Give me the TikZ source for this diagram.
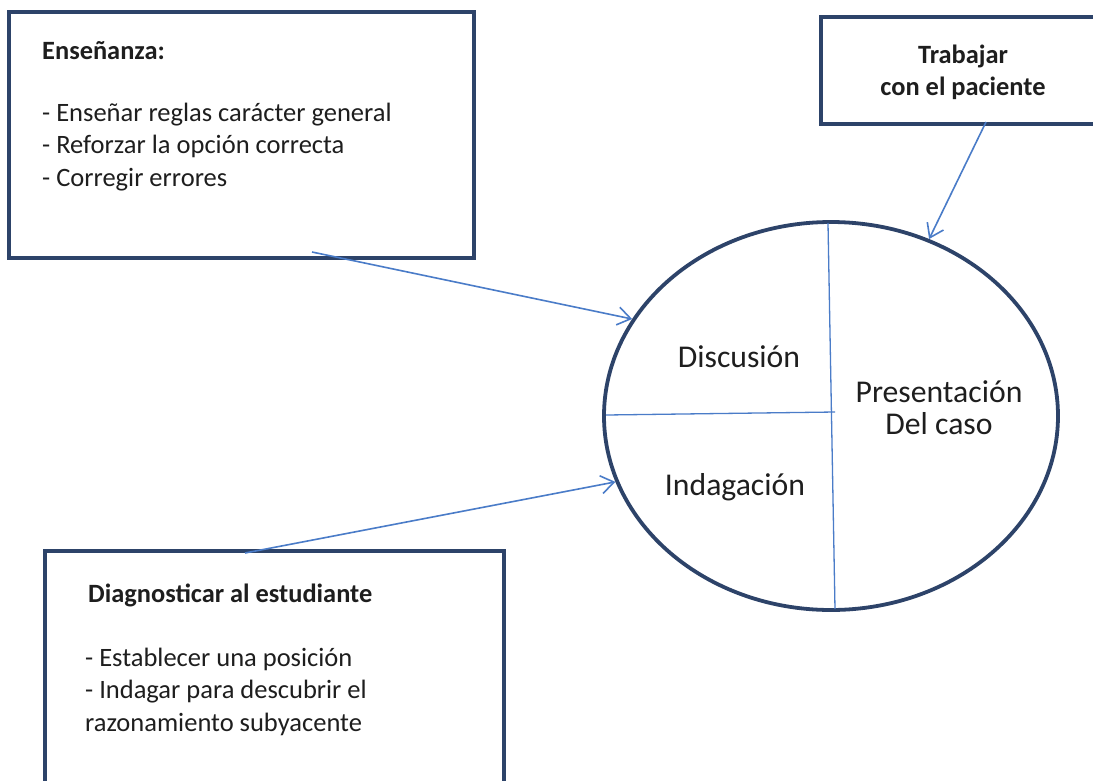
\documentclass[tikz,border=0pt]{standalone}
\usepackage{fontspec}
\setmainfont{Carlito}
\usetikzlibrary{shapes.geometric,arrows.meta}
\definecolor{navy}{HTML}{2D4369}
\definecolor{arrblue}{HTML}{4A7CC8}
\definecolor{txt}{HTML}{1E1E1E}
\begin{document}
\begin{tikzpicture}[x=1pt,y=-1pt,
  box/.style={draw=navy, line width=3.5pt, rectangle, inner sep=0pt},
  bodytxt/.style={text=txt, font=\fontsize{26.5}{32.2}\selectfont, align=left, inner sep=0pt, anchor=base west},
  headtxt/.style={text=txt, font=\fontsize{26.4}{32}\selectfont\bfseries, inner sep=0pt},
  circtxt/.style={text=txt, font=\fontsize{31.7}{32}\selectfont, align=center, inner sep=0pt},
  conn/.style={draw=arrblue, line width=1.6pt, -{Straight Barb[length=13pt,width=18pt,line width=1.6pt]}},
  divider/.style={draw=arrblue, line width=1.3pt}]
\clip (0,0) rectangle (1093,780);
\fill[white] (0,0) rectangle (1093,780);
% boxes
\node[box, minimum width=465pt, minimum height=246pt] (ens) at (241.5,135) {};
\node[box, minimum width=289pt, minimum height=107pt] (trab) at (965.5,70.5) {};
\node[box, minimum width=459pt, minimum height=249pt] (diag) at (274.5,675.5) {};
% ellipse
\node[draw=navy, line width=3.8pt, ellipse, inner sep=0pt, minimum width=454pt, minimum height=388pt] (ell) at (831,416) {};
% texts (base anchor = last line baseline)
\node[headtxt, anchor=base west] (ensh) at (42,59) {Enseñanza:};
\node[bodytxt] (ensl) at (42,186) {- Enseñar reglas carácter general\\- Reforzar la opción correcta\\- Corregir errores};
\node[headtxt, align=center, anchor=base] (trabh) at (963,95) {Trabajar\\con el paciente};
\node[headtxt, anchor=base west] (diagh) at (88,602) {Diagnosticar al estudiante};
\node[bodytxt] (diagl) at (85,731) {- Establecer una posición\\- Indagar para descubrir el\\razonamiento subyacente};
\node[circtxt] (disc) at (739,357) {Discusión};
\node[circtxt] (inda) at (735,487) {Indagación};
\node[circtxt] (pres) at (939,408) {Presentación\\Del caso};
% dividers
\coordinate (vtop) at (828,223);
\coordinate (vbot) at (835,609);
\coordinate (hleft) at (606,415);
\coordinate (hright) at (835,412);
\draw[divider] (vtop) -- (vbot);
\draw[divider] (hleft) -- (hright);
% connectors
\coordinate (s1) at (312,252);
\coordinate (s2) at (245,553);
\coordinate (s3) at (986,122);
\draw[conn] (s1) -- (ell.154);
\draw[conn] (s2) -- (ell.197);
\draw[conn] (s3) -- (ell.61);
\end{tikzpicture}
\end{document}
